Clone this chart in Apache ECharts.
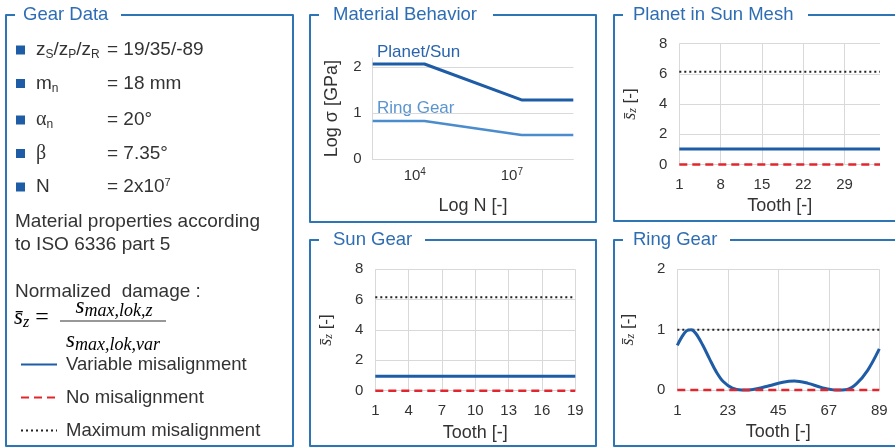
<!DOCTYPE html>
<html><head><meta charset="utf-8">
<script src="https://cdn.jsdelivr.net/npm/echarts@6/dist/echarts.min.js"></script>
<style>html,body{margin:0;padding:0;background:#fff}#c{width:895px;height:448px}</style>
</head><body><div id="c"></div>
<script>
// ---------- data ----------
const logN = [2.7, 4.3, 7.3, 8.9];
const planetSunStrength = [2.07, 2.07, 1.29, 1.29];
const ringGearStrength = [0.83, 0.83, 0.53, 0.53];
const logNTicks = [4, 7];
const strengthTicks = [0, 1, 2];

const planetTeeth = [1, 35];
const planetVariable = [1.03, 1.03];
const planetNoMis = [0, 0];
const planetMaxMis = [6.15, 6.15];
const planetTicks = [1, 8, 15, 22, 29];

const sunTeeth = [1, 19];
const sunVariable = [0.95, 0.95];
const sunNoMis = [0, 0];
const sunMaxMis = [6.15, 6.15];
const sunTicks = [1, 4, 7, 10, 13, 16, 19];

const ringTeeth = [1, 3, 5, 7, 9, 12, 15, 18, 21, 25, 29, 34, 41, 47, 52, 58, 64, 70, 75, 79, 84, 89];
const ringVariable = [0.74, 0.88, 0.98, 1.00, 0.94, 0.75, 0.52, 0.30, 0.14, 0.03, 0.0, 0.01, 0.07, 0.13, 0.15, 0.11, 0.04, 0.0, 0.01, 0.10, 0.33, 0.68];
const ringTeethFlat = [1, 89];
const ringNoMis = [0, 0];
const ringMaxMis = [1, 1];
const ringTicks = [1, 23, 45, 67, 89];

const gearDataRows = [
  ['{t|z}{sub|S}{t|/z}{sub|P}{t|/z}{sub|R}', '= 19/35/-89'],
  ['{t|m}{sub|n}', '= 18 mm'],
  ['{g|α}{sub|n}', '= 20°'],
  ['{g|β}', '= 7.35°'],
  ['{t|N}', '{t|= 2x10}{sup|7}']
];

// ---------- style ----------
const BLUE = '#1f5ca6', RED = '#e3262d', BORDER = '#2e75b6', TITLE = '#2e6db4', TXT = '#333';
const FONT = 'Liberation Sans, Arial, sans-serif';
const GRIDC = '#d9d9d9';

const pair = (xs, ys) => xs.map((x, i) => [x, ys[i]]);

function toothX(idx, ticks, max) {
  return {
    type: 'value', gridIndex: idx, min: 1, max: max,
    axisLine: {show: false},
    axisTick: {show: false, customValues: ticks},
    axisLabel: {customValues: ticks, fontSize: 15, color: TXT, margin: 13, fontFamily: FONT},
    splitLine: {show: true, lineStyle: {color: GRIDC}},
    name: 'Tooth [-]', nameLocation: 'middle', nameGap: 33,
    nameTextStyle: {fontSize: 18, color: TXT, fontFamily: FONT}
  };
}
function szY(idx, max, interval) {
  return {
    type: 'value', gridIndex: idx, min: 0, max: max, interval: interval,
    axisLine: {show: false}, axisTick: {show: false},
    axisLabel: {fontSize: 15, color: TXT, margin: 12, fontFamily: FONT},
    splitLine: {lineStyle: {color: GRIDC}},
    name: '{s|s\u0304}{z|z}{n| [-]}', nameLocation: 'middle', nameGap: 40,
    nameTextStyle: {
      fontSize: 16, color: TXT,
      rich: {
        s: {fontFamily: 'Liberation Serif', fontStyle: 'italic', fontSize: 18, color: TXT},
        z: {fontFamily: 'Liberation Serif', fontStyle: 'italic', fontSize: 12, color: TXT, verticalAlign: 'bottom', padding: [6, 0, 0, 0]},
        n: {fontFamily: FONT, fontSize: 17, color: TXT}
      }
    }
  };
}
function triple(xIdx, teethA, vVar, teethB, vNo, vMax, smooth) {
  return [
    {name: 'Variable misalignment', type: 'line', xAxisIndex: xIdx, yAxisIndex: xIdx, data: pair(teethA, vVar),
     showSymbol: false, symbol: 'none', smooth: smooth || false, clip: false,
     lineStyle: {color: BLUE, width: 3}, itemStyle: {color: BLUE}, z: 4},
    {name: 'No misalignment', type: 'line', xAxisIndex: xIdx, yAxisIndex: xIdx, data: pair(teethB, vNo),
     showSymbol: false, symbol: 'none', clip: false,
     lineStyle: {color: RED, width: 2.5, type: [8, 5]}, itemStyle: {color: RED}, z: 5},
    {name: 'Maximum misalignment', type: 'line', xAxisIndex: xIdx, yAxisIndex: xIdx, data: pair(teethB, vMax),
     showSymbol: false, symbol: 'none', clip: false,
     lineStyle: {color: '#222', width: 2, type: [2, 3]}, itemStyle: {color: '#222'}, z: 3}
  ];
}

// ---------- graphics (frames and left panel text) ----------
function frame(x0, y0, x1, y1, titleX, resumeX, title) {
  return [
    {type: 'polyline', shape: {points: [[resumeX, y0], [x1, y0], [x1, y1], [x0, y1], [x0, y0], [x0 + 9, y0]]},
     style: {stroke: BORDER, lineWidth: 2, fill: null, lineJoin: 'round'}},
    {type: 'text', x: titleX, y: y0, style: {text: title, fontSize: 18.5, fontFamily: FONT, fill: TITLE, verticalAlign: 'middle'}}
  ];
}
const g = [];
g.push(...frame(6, 15, 293, 446, 23, 121, 'Gear Data'));
g.push(...frame(310, 15, 596, 222, 333, 493, 'Material Behavior'));
g.push(...frame(614, 15, 905, 221, 633, 808, 'Planet in Sun Mesh'));
g.push(...frame(310, 240, 596, 446, 333, 425, 'Sun Gear'));
g.push(...frame(614, 240, 905, 446, 633, 730, 'Ring Gear'));

const rowY = [50, 83.5, 120, 153.5, 187];
const richBase = {
  t: {fontSize: 19, fontFamily: FONT, color: TXT},
  g: {fontSize: 20, fontFamily: 'Liberation Serif', color: TXT},
  sub: {fontSize: 12, fontFamily: FONT, color: TXT, verticalAlign: 'bottom', padding: [10, 0, 0, 0]},
  sup: {fontSize: 11, fontFamily: FONT, color: TXT, verticalAlign: 'top', padding: [0, 0, 8, 0]}
};
gearDataRows.forEach((r, i) => {
  g.push({type: 'rect', shape: {x: 16, y: rowY[i] - 4.5, width: 9, height: 9}, style: {fill: BLUE}});
  g.push({type: 'text', x: 36, y: rowY[i], style: {text: r[0], rich: richBase, verticalAlign: 'middle', fontSize: 19, fontFamily: FONT, fill: TXT}});
  g.push({type: 'text', x: 107, y: rowY[i], style: {text: r[1], rich: richBase, verticalAlign: 'middle', fontSize: 19, fontFamily: FONT, fill: TXT}});
});
const plain = (t, x, y) => ({type: 'text', x: x, y: y, style: {text: t, fontSize: 19, fontFamily: FONT, fill: TXT, verticalAlign: 'middle'}});
g.push(plain('Material properties according', 15, 222));
g.push(plain('to ISO 6336 part 5', 15, 245));
g.push(plain('Normalized  damage :', 15, 292));
const fr = {
  s: {fontFamily: 'Liberation Serif', fontStyle: 'italic', fontSize: 23, color: TXT},
  b: {fontFamily: 'Liberation Serif', fontStyle: 'italic', fontSize: 18, color: TXT, verticalAlign: 'bottom', padding: [9, 0, 0, 0]},
  z: {fontFamily: 'Liberation Serif', fontStyle: 'italic', fontSize: 16, color: TXT, verticalAlign: 'bottom', padding: [9, 0, 0, 0]},
  e: {fontFamily: 'Liberation Serif', fontSize: 24, color: TXT, padding: [0, 0, 0, 6]}
};
g.push({type: 'text', x: 14, y: 318, style: {text: '{s|s\u0304}{z|z}{e|=}', rich: fr, verticalAlign: 'middle'}});
g.push({type: 'text', x: 114, y: 307, style: {text: '{s|s}{b|max,lok,z}', rich: fr, align: 'center', verticalAlign: 'middle'}});
g.push({type: 'line', shape: {x1: 60, y1: 321, x2: 166, y2: 321}, style: {stroke: TXT, lineWidth: 1.2}});
g.push({type: 'text', x: 113, y: 341, style: {text: '{s|s}{b|max,lok,var}', rich: fr, align: 'center', verticalAlign: 'middle'}});

// material curve labels
g.push({type: 'text', x: 377, y: 52, style: {text: 'Planet/Sun', fontSize: 17, fontFamily: FONT, fill: '#2a64ad', verticalAlign: 'middle'}});
g.push({type: 'text', x: 377, y: 108, style: {text: 'Ring Gear', fontSize: 17, fontFamily: FONT, fill: '#5b95cf', verticalAlign: 'middle'}});

const option = {
  animation: false,
  backgroundColor: '#fff',
  textStyle: {fontFamily: FONT},
  legend: {
    orient: 'vertical', left: 15, top: 350, itemWidth: 36, itemHeight: 14, itemGap: 14,
    data: ['Variable misalignment', 'No misalignment', 'Maximum misalignment'],
    itemStyle: {opacity: 0},
    textStyle: {fontSize: 18.5, color: TXT, fontFamily: FONT, padding: [0, 0, 0, 4]},
    selectedMode: false
  },
  grid: [
    {left: 372.7, top: 58, width: 200.6, height: 101.3},
    {left: 679.3, top: 43.7, width: 200.7, height: 120.8},
    {left: 375.3, top: 269.3, width: 200, height: 121.4},
    {left: 677.3, top: 269.3, width: 202, height: 120.7}
  ],
  xAxis: [
    {type: 'value', gridIndex: 0, min: 2.7, max: 8.9,
     axisLine: {show: true, lineStyle: {color: GRIDC}}, axisTick: {show: false, customValues: logNTicks},
     axisLabel: {customValues: logNTicks, margin: 8, formatter: v => '{b|10}{p|' + v + '}',
       rich: {b: {fontSize: 15, color: TXT, fontFamily: FONT}, p: {fontSize: 10, color: TXT, fontFamily: FONT, verticalAlign: 'top', padding: [0, 0, 7, 0]}}},
     splitLine: {show: false},
     name: 'Log N [-]', nameLocation: 'middle', nameGap: 38, nameTextStyle: {fontSize: 18, color: TXT, fontFamily: FONT}},
    toothX(1, planetTicks, 35),
    toothX(2, sunTicks, 19),
    toothX(3, ringTicks, 89)
  ],
  yAxis: [
    {type: 'value', gridIndex: 0, min: 0, max: 2.2,
     axisLine: {show: true, lineStyle: {color: GRIDC}}, axisTick: {show: false, customValues: strengthTicks},
     axisLabel: {customValues: strengthTicks, fontSize: 15, color: TXT, margin: 11, fontFamily: FONT},
     splitLine: {lineStyle: {color: GRIDC}},
     name: 'Log σ [GPa]', nameLocation: 'middle', nameGap: 32, nameTextStyle: {fontSize: 18, color: TXT, fontFamily: FONT}},
    szY(1, 8, 2),
    szY(2, 8, 2),
    szY(3, 2, 1)
  ],
  graphic: {elements: g},
  series: [
    {name: 'Planet/Sun', type: 'line', xAxisIndex: 0, yAxisIndex: 0, data: pair(logN, planetSunStrength),
     showSymbol: false, symbol: 'none', lineStyle: {color: '#1f5ca6', width: 3}},
    {name: 'Ring Gear', type: 'line', xAxisIndex: 0, yAxisIndex: 0, data: pair(logN, ringGearStrength),
     showSymbol: false, symbol: 'none', lineStyle: {color: '#4a8ccc', width: 2.5}},
    ...triple(1, planetTeeth, planetVariable, planetTeeth, planetNoMis, planetMaxMis),
    ...triple(2, sunTeeth, sunVariable, sunTeeth, sunNoMis, sunMaxMis),
    ...triple(3, ringTeeth, ringVariable, ringTeethFlat, ringNoMis, ringMaxMis, 0.35)
  ]
};
const chart = echarts.init(document.getElementById('c'), null, {renderer: 'canvas'});
chart.setOption(option);
</script>
</body></html>
